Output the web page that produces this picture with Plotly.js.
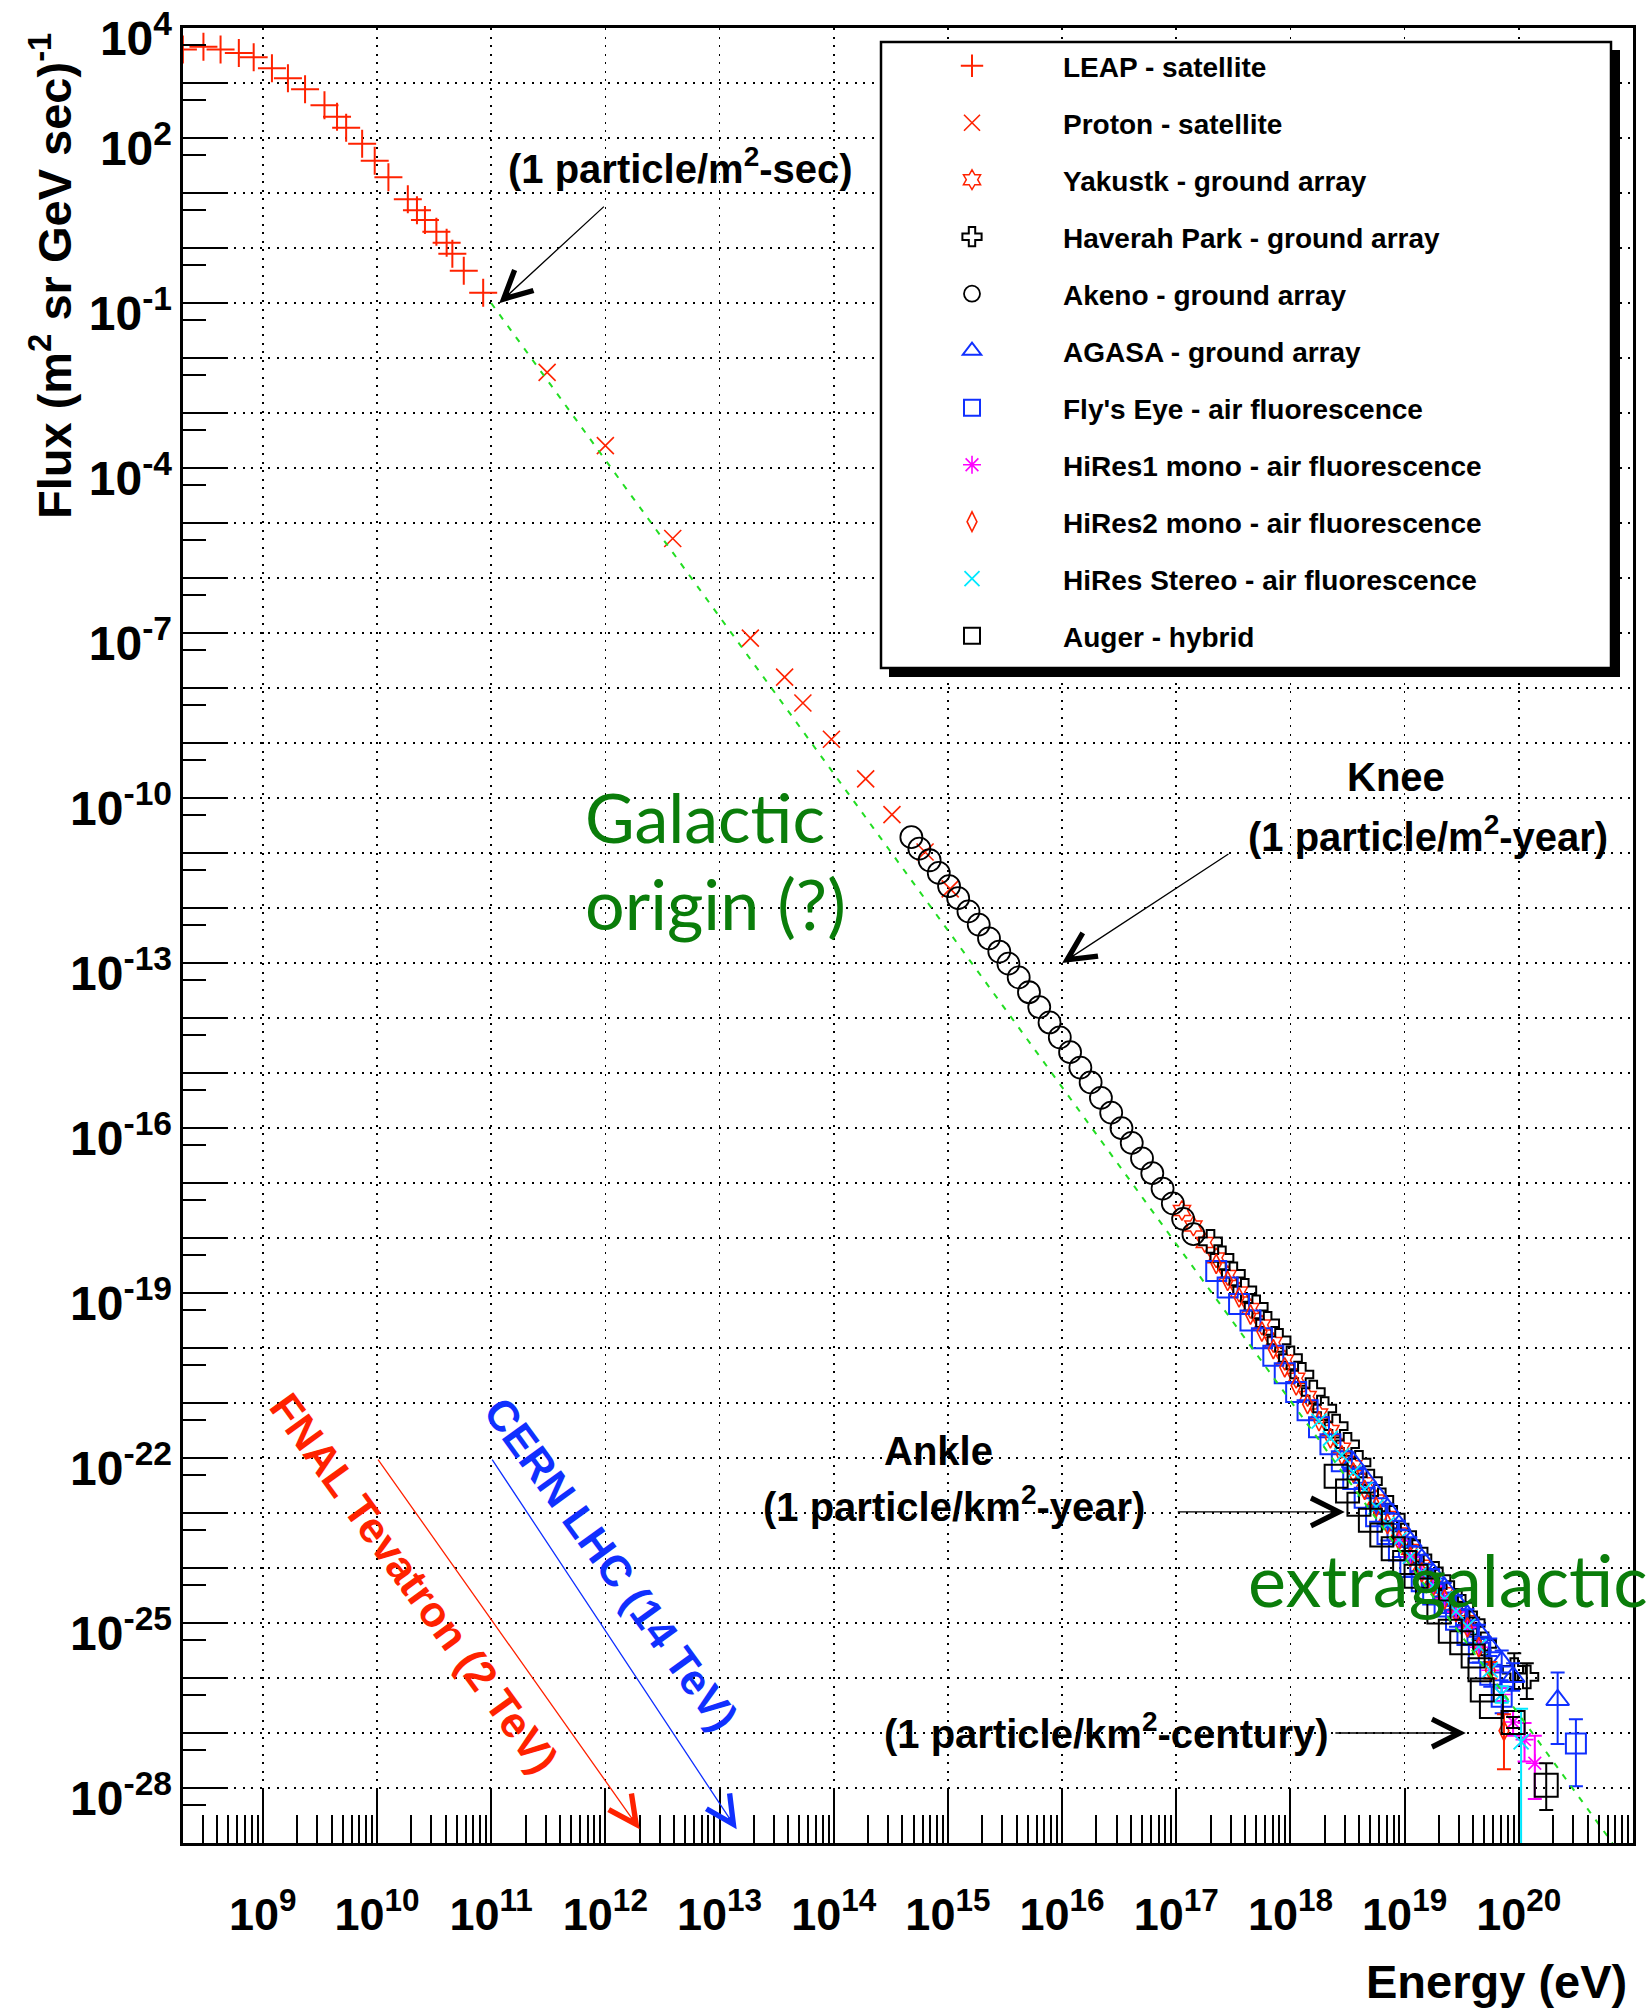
<!DOCTYPE html>
<html><head><meta charset="utf-8">
<script src="https://cdn.plot.ly/plotly-3.0.1.min.js"></script>
<style>html,body{margin:0;padding:0;background:#fff;} #chart{width:1648px;height:2008px;}</style>
</head><body><div id="chart"></div>
<script>
// ---- data (log10 of energy in eV, log10 of flux) ----
const leapLogE = [8.30, 8.48, 8.63, 8.79, 8.92, 9.08, 9.22, 9.37, 9.54, 9.65, 9.73, 9.87, 9.98, 10.10, 10.27, 10.35, 10.42, 10.52, 10.61, 10.66, 10.76, 10.93];
const leapLogF = [3.61, 3.66, 3.61, 3.55, 3.47, 3.27, 3.09, 2.89, 2.60, 2.39, 2.19, 1.90, 1.59, 1.29, 0.89, 0.69, 0.51, 0.30, 0.10, -0.10, -0.41, -0.81];

const protonLogE = [11.49, 12.00, 12.59, 13.27, 13.57, 13.73, 13.98, 14.28, 14.51, 14.80, 15.02];
const protonLogF = [-2.26, -3.59, -5.28, -7.09, -7.80, -8.27, -8.93, -9.65, -10.30, -10.98, -11.65];

const yakutskLogE = [17.05, 17.15, 17.25, 17.35, 17.45, 17.55, 17.65, 17.75, 17.85, 17.95, 18.05, 18.15, 18.25, 18.35, 18.45, 18.55, 18.65, 18.75, 18.85, 18.95, 19.05, 19.15, 19.25, 19.35, 19.45, 19.55];
const yakutskLogF = [-17.50, -17.78, -18.08, -18.36, -18.68, -18.98, -19.28, -19.58, -19.90, -20.22, -20.55, -20.88, -21.20, -21.50, -21.82, -22.14, -22.45, -22.76, -23.06, -23.36, -23.66, -23.95, -24.20, -24.45, -24.70, -24.96];

const haverahLogE = [17.30, 17.40, 17.50, 17.60, 17.70, 17.80, 17.90, 18.00, 18.10, 18.20, 18.30, 18.40, 18.50, 18.60, 18.70, 18.80, 18.90, 19.00, 19.10, 19.20, 19.30, 19.40, 19.50, 19.60, 19.70, 19.96, 20.07];
const haverahLogF = [-18.06, -18.36, -18.65, -18.95, -19.25, -19.55, -19.86, -20.18, -20.48, -20.80, -21.10, -21.42, -21.75, -22.08, -22.42, -22.76, -23.08, -23.40, -23.70, -23.96, -24.20, -24.45, -24.70, -25.00, -25.38, -25.85, -25.98];
const haverahErrUp = [0,0,0,0,0,0,0,0,0,0,0,0,0,0,0,0,0,0,0,0,0,0,0.08,0.10,0.12,0.30,0.25];
const haverahErrDn = [0,0,0,0,0,0,0,0,0,0,0,0,0,0,0,0,0,0,0,0,0,0,0.08,0.10,0.12,0.35,0.40];

const akenoLogE = [14.68, 14.75, 14.84, 14.92, 15.01, 15.09, 15.18, 15.27, 15.36, 15.45, 15.53, 15.62, 15.71, 15.80, 15.89, 15.98, 16.07, 16.16, 16.25, 16.34, 16.43, 16.52, 16.61, 16.70, 16.79, 16.88, 16.97, 17.06, 17.15];
const akenoLogF = [-10.71, -10.92, -11.13, -11.36, -11.60, -11.82, -12.06, -12.30, -12.55, -12.79, -13.01, -13.26, -13.53, -13.80, -14.08, -14.35, -14.62, -14.90, -15.17, -15.45, -15.72, -16.00, -16.27, -16.55, -16.82, -17.10, -17.37, -17.65, -17.93];

const agasaLogE = [18.55, 18.65, 18.75, 18.85, 18.95, 19.05, 19.15, 19.25, 19.35, 19.45, 19.55, 19.65, 19.75, 19.85, 19.95, 20.34];
const agasaLogF = [-22.08, -22.36, -22.64, -22.92, -23.22, -23.52, -23.84, -24.10, -24.36, -24.60, -24.86, -25.16, -25.44, -25.70, -25.98, -26.40];
const agasaErrUp = [0,0,0,0.08,0.08,0.08,0.08,0.08,0.09,0.10,0.11,0.13,0.16,0.20,0.25,0.50];
const agasaErrDn = [0,0,0,0.08,0.08,0.08,0.08,0.08,0.09,0.10,0.11,0.13,0.16,0.20,0.25,0.80];

const flyLogE = [17.35, 17.45, 17.55, 17.65, 17.75, 17.85, 17.95, 18.05, 18.15, 18.25, 18.35, 18.45, 18.55, 18.65, 18.75, 18.85, 18.95, 19.05, 19.15, 19.25, 19.35, 19.45, 19.55, 19.65, 19.75, 19.85, 20.50];
const flyLogF = [-18.60, -18.90, -19.20, -19.50, -19.82, -20.14, -20.46, -20.80, -21.13, -21.44, -21.75, -22.06, -22.38, -22.72, -23.06, -23.38, -23.68, -23.98, -24.24, -24.48, -24.70, -24.94, -25.22, -25.54, -25.94, -26.34, -27.19];
const flyErrUp = [0,0,0,0,0,0,0,0,0,0,0,0,0,0,0.10,0.12,0.12,0.14,0.15,0.16,0.12,0.13,0.15,0.18,0.22,0.30,0.44];
const flyErrDn = [0,0,0,0,0,0,0,0,0,0,0,0,0,0,0.10,0.12,0.12,0.14,0.15,0.16,0.12,0.13,0.15,0.18,0.22,0.30,0.78];

const hires1LogE = [18.95, 19.05, 19.15, 19.25, 19.35, 19.45, 19.55, 19.65, 19.75, 19.85, 19.95, 20.05, 20.14];
const hires1LogF = [-23.50, -23.80, -24.08, -24.33, -24.56, -24.80, -25.08, -25.44, -25.86, -26.30, -26.80, -27.12, -27.55];
const hires1ErrUp = [0,0,0,0,0,0,0,0,0,0.12,0.20,0.30,0.50];
const hires1ErrDn = [0,0,0,0,0,0,0,0,0,0.12,0.25,0.40,0.65];

const hires2LogE = [17.35, 17.45, 17.55, 17.65, 17.75, 17.85, 17.95, 18.05, 18.15, 18.25, 18.35, 18.45, 18.55, 18.65, 18.75, 18.85, 18.95, 19.05, 19.15, 19.25, 19.35, 19.45, 19.55, 19.65, 19.75, 19.87];
const hires2LogF = [-18.47, -18.78, -19.08, -19.39, -19.70, -20.02, -20.35, -20.68, -21.02, -21.33, -21.64, -21.95, -22.26, -22.58, -22.89, -23.20, -23.50, -23.80, -24.08, -24.33, -24.57, -24.80, -25.08, -25.44, -25.86, -26.96];
const hires2ErrUp = [0,0,0,0,0,0,0,0,0,0,0,0,0,0,0,0,0,0,0,0,0,0,0,0,0.15,0.30];
const hires2ErrDn = [0,0,0,0,0,0,0,0,0,0,0,0,0,0,0,0,0,0,0,0,0,0,0,0,0.15,0.70];

const stereoLogE = [18.25, 18.35, 18.45, 18.55, 18.65, 18.75, 18.85, 18.95, 19.05, 19.15, 19.25, 19.35, 19.45, 19.55, 19.65, 19.75, 19.85, 20.02];
const stereoLogF = [-21.33, -21.64, -21.95, -22.26, -22.57, -22.89, -23.20, -23.49, -23.79, -24.08, -24.32, -24.56, -24.79, -25.06, -25.43, -25.85, -26.30, -27.16];
const stereoErrUp = [0,0,0,0,0,0,0,0,0,0,0,0,0,0,0,0,0.15,0.60];
const stereoErrDn = [0,0,0,0,0,0,0,0,0,0,0,0,0,0,0,0,0.15,8.0];

const augerLogE = [18.40, 18.50, 18.60, 18.70, 18.80, 18.90, 19.00, 19.10, 19.20, 19.30, 19.40, 19.50, 19.60, 19.66, 19.68, 19.76, 19.95, 20.24];
const augerLogF = [-22.33, -22.60, -22.84, -23.13, -23.40, -23.65, -23.90, -24.15, -24.40, -24.80, -25.15, -25.36, -25.60, -25.85, -26.22, -26.52, -26.81, -27.95];
const augerErrUp = [0,0,0,0,0,0,0,0,0,0,0,0,0,0,0,0,0.10,0.40];
const augerErrDn = [0,0,0,0,0,0,0,0,0,0,0,0,0,0,0,0,0.10,0.45];

// green dashed power-law guide line (end points)
const fitLogE = [11.0, 20.82];
const fitLogF = [-1.0, -29.0];

// axis tick labels
const xTickExp = [9, 10, 11, 12, 13, 14, 15, 16, 17, 18, 19, 20];
const yLabelExp = [4, 2, -1, -4, -7, -10, -13, -16, -19, -22, -25, -28];

// ---- helpers ----
const P = v => Math.pow(10, v);
const X0 = 183, X1 = 1633, Y0 = 28, Y1 = 1843;
const px = v => (v - X0) / (X1 - X0);
const py = v => (Y1 - v) / (Y1 - Y0);
const FB = 'Liberation Sans, Arial, Helvetica, sans-serif';
const FG = 'Lato, Open Sans, sans-serif';
const RED = '#ff2200', BLUE = '#1030ff', MAG = '#ff00ff', CYAN = '#00e8ff', BLK = '#000000';

function errArr(lf, up, dn) {
  const plus = lf.map((v, i) => up[i] > 0 ? P(v + up[i]) - P(v) : NaN);
  const minus = lf.map((v, i) => dn[i] > 0 ? P(v) - P(v - dn[i]) : NaN);
  return {plus, minus};
}
let gid = 0;
function series(name, le, lf, symbol, color, size, lw, up, dn) {
  const t = {
    type: 'scatter', mode: 'markers', name: name, legendgroup: 'g' + (gid++),
    x: le.map(P), y: lf.map(P), cliponaxis: true,
    marker: {symbol: symbol, size: size, color: color, line: {color: color, width: lw}}
  };
  if (up) {
    const e = errArr(lf, up, dn);
    t.error_y = {type: 'data', symmetric: false, array: e.plus, arrayminus: e.minus,
                 color: color, thickness: 2, width: 7};
  }
  return t;
}

const traces = [
  series('LEAP - satellite', leapLogE, leapLogF, 'cross-thin-open', RED, 20, 2),
  series('Proton - satellite', protonLogE, protonLogF, 'x-thin-open', RED, 17, 1.6),
  series('Yakustk - ground array', yakutskLogE, yakutskLogF, 'hexagram-open', RED, 15, 1.5),
  series('Haverah Park - ground array', haverahLogE, haverahLogF, 'cross-open', BLK, 19, 2, haverahErrUp, haverahErrDn),
  series('Akeno - ground array', akenoLogE, akenoLogF, 'circle-open', BLK, 22, 1.8),
  series('AGASA - ground array', agasaLogE, agasaLogF, 'triangle-up-open', BLUE, 20, 2, agasaErrUp, agasaErrDn),
  series("Fly's Eye - air fluorescence", flyLogE, flyLogF, 'square-open', BLUE, 20, 2, flyErrUp, flyErrDn),
  series('HiRes1 mono - air fluorescence', hires1LogE, hires1LogF, 'asterisk-open', MAG, 15, 1.6, hires1ErrUp, hires1ErrDn),
  series('HiRes2 mono - air fluorescence', hires2LogE, hires2LogF, 'diamond-tall-open', RED, 14, 1.6, hires2ErrUp, hires2ErrDn),
  series('HiRes Stereo - air fluorescence', stereoLogE, stereoLogF, 'x-thin-open', CYAN, 15, 1.8, stereoErrUp, stereoErrDn),
  series('Auger - hybrid', augerLogE, augerLogF, 'square-open', BLK, 23, 2, augerErrUp, augerErrDn),
  {type: 'scatter', mode: 'lines', x: fitLogE.map(P), y: fitLogF.map(P), yaxis: 'y2', showlegend: false,
   line: {color: '#22dd22', width: 2, dash: '6px,8px'}}
];

// tick positions
const xMajor = xTickExp.map(P);
const xText = xTickExp.map(k => '10<sup>' + k + '</sup>');
const xMinor = [];
for (let k = 8; k <= 20; k++) for (let m = 2; m <= 9; m++) { const v = m * Math.pow(10, k); if (v >= 2e8 && v <= 1e21) xMinor.push(v); }
const yMajor = [];
for (let k = -28; k <= 4; k++) yMajor.push(P(k));
const yLabVals = yLabelExp.map(P);
const yLabText = yLabelExp.map(k => '10<sup>' + k + '</sup>');
const yMinor = [];
for (let k = -30; k <= 3; k++) { const v = 5 * Math.pow(10, k); if (v > 1e-29 && v < 1e4) yMinor.push(v); }

const YR = [-29, 4.003];
const tf = {family: FB, size: 45, color: '#000', weight: 'bold'};
const layout = {
  width: 1648, height: 2008, autosize: false,
  margin: {l: X0, r: 1648 - X1, t: Y0, b: 2008 - Y1, pad: 0},
  paper_bgcolor: '#fff', plot_bgcolor: '#fff',
  showlegend: true,
  xaxis: {
    type: 'log', range: [Math.log10(2e8), 21], zeroline: false,
    showline: true, linecolor: '#000', linewidth: 3, mirror: true,
    showgrid: true, gridcolor: '#000', gridwidth: 1.6, griddash: '2px,6.5px',
    tickmode: 'array', tickvals: xMajor, ticktext: xText,
    ticks: 'inside', ticklen: 55, tickwidth: 2, tickcolor: '#000',
    tickfont: tf, ticklabelstandoff: 30,
    minor: {tickmode: 'array', tickvals: xMinor, ticks: 'inside', ticklen: 28, tickwidth: 2, tickcolor: '#000', showgrid: false}
  },
  yaxis: {
    type: 'log', range: YR, zeroline: false,
    showline: true, linecolor: '#000', linewidth: 3, mirror: true,
    showgrid: true, gridcolor: '#000', gridwidth: 1.6, griddash: '2px,6.5px',
    tickmode: 'array', tickvals: yMajor, showticklabels: false,
    ticks: 'inside', ticklen: 45, tickwidth: 2, tickcolor: '#000',
    minor: {tickmode: 'array', tickvals: yMinor, ticks: 'inside', ticklen: 23, tickwidth: 2, tickcolor: '#000', showgrid: false}
  },
  yaxis2: {
    type: 'log', range: YR, overlaying: 'y', side: 'left', zeroline: false,
    showline: false, showgrid: false, ticks: '',
    tickmode: 'array', tickvals: yLabVals, ticktext: yLabText,
    tickfont: {family: FB, size: 48, color: '#000', weight: 'bold'},
    ticklabelstandoff: 10, ticklabelshift: 10, ticklabeloverflow: 'allow'
  },
  legend: {
    x: px(881), y: py(41), xanchor: 'left', yanchor: 'top',
    bgcolor: 'rgba(0,0,0,0)', borderwidth: 0,
    font: {family: FB, size: 28, color: '#000', weight: 'bold'},
    tracegroupgap: 17.6, itemwidth: 172, traceorder: 'grouped', itemclick: false
  },
  shapes: [
    {type: 'rect', xref: 'paper', yref: 'paper', x0: px(889), x1: px(1620), y0: py(50), y1: py(677),
     fillcolor: '#000', line: {width: 0}, layer: 'above'},
    {type: 'rect', xref: 'paper', yref: 'paper', x0: px(881), x1: px(1611), y0: py(42), y1: py(668),
     fillcolor: '#fff', line: {color: '#000', width: 2.5}, layer: 'above'}
  ],
  annotations: []
};

const A = layout.annotations;
function txt(x, y, text, size, color, opts) {
  A.push(Object.assign({xref: 'paper', yref: 'paper', x: px(x), y: py(y), text: text, showarrow: false,
    font: {family: FB, size: size, color: color, weight: 'bold'}, xanchor: 'center', yanchor: 'middle'}, opts || {}));
}
function arrow(hx, hy, tx, ty, color) {
  A.push({xref: 'x', yref: 'y', axref: 'x', ayref: 'y', x: hx, y: hy, ax: tx, ay: ty, text: '',
    showarrow: true, arrowhead: 5, arrowsize: 4.2, arrowwidth: 1.3, arrowcolor: color, standoff: 0, startstandoff: 0});
}
// black annotations
txt(680, 166, '(1 particle/m<sup>2</sup>-sec)', 40, '#000');
arrow(11.07, -1.0, 12.0, 0.78, '#000');
txt(1396, 777, 'Knee', 40, '#000');
txt(1428, 834, '(1 particle/m<sup>2</sup>-year)', 40, '#000');
arrow(16.0, -13.0, 17.47, -11.0, '#000');
txt(939, 1451, 'Ankle', 40, '#000');
txt(954, 1504, '(1 particle/km<sup>2</sup>-year)', 40, '#000');
arrow(18.476, -22.98, 17.0, -22.98, '#000');
txt(1106, 1731, '(1 particle/km<sup>2</sup>-century)', 40, '#000');
arrow(19.536, -27.0, 18.38, -27.0, '#000');
// accelerator arrows
txt(414, 1583, 'FNAL Tevatron (2 TeV)', 43, RED, {textangle: 54});
arrow(12.3, -28.75, 10.0, -22.0, RED);
txt(611, 1564, 'CERN LHC (14 TeV)', 43, BLUE, {textangle: 54});
arrow(13.15, -28.75, 11.0, -22.0, BLUE);
// green labels
const GREEN = '#0a7d0a';
A.push({xref: 'paper', yref: 'paper', x: px(583), y: py(816), text: 'Galactic', showarrow: false, xanchor: 'left', yanchor: 'middle', font: {family: FG, size: 68, color: GREEN}});
A.push({xref: 'paper', yref: 'paper', x: px(583), y: py(903), text: 'origin (?)', showarrow: false, xanchor: 'left', yanchor: 'middle', font: {family: FG, size: 70, color: GREEN}});
A.push({xref: 'paper', yref: 'paper', x: px(1246), y: py(1579), text: 'extragalactic', showarrow: false, xanchor: 'left', yanchor: 'middle', font: {family: FG, size: 72, color: GREEN}});
// axis titles
txt(51, 276, 'Flux (m<sup>2</sup> sr GeV sec)<sup>-1</sup>', 47, '#000', {textangle: -90});
txt(1629, 1982, 'Energy (eV)', 47, '#000', {xanchor: 'right'});

Plotly.newPlot('chart', traces, layout, {displayModeBar: false, staticPlot: true});
</script></body></html>
